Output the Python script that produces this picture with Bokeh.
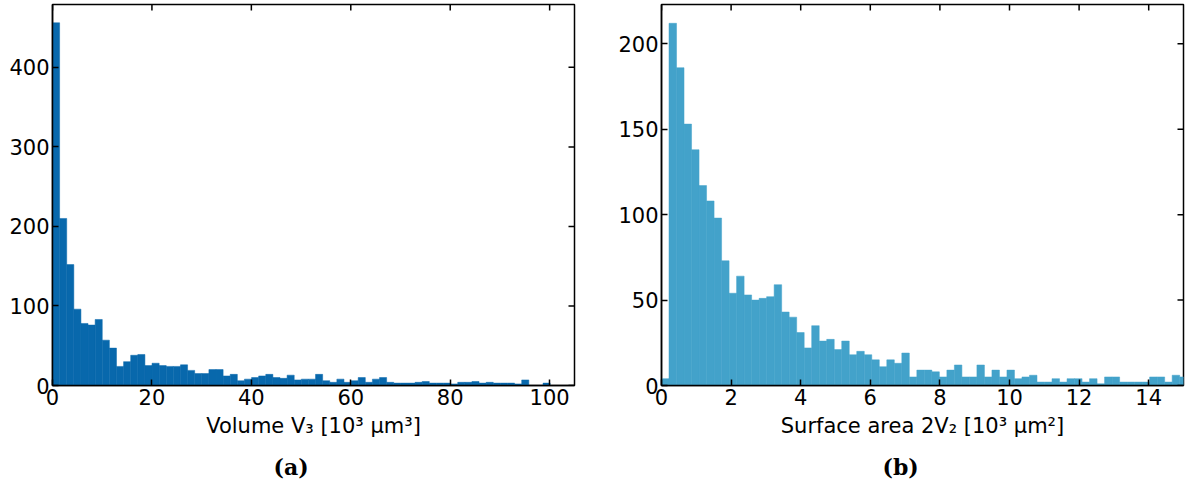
import numpy as np
from bokeh.plotting import figure
from bokeh.layouts import row
from bokeh.models import Range1d, LinearAxis, FixedTicker, Title
from bokeh.embed import file_html
from bokeh.resources import INLINE

# ---- data ----
vol_bin_start = 0.0
vol_bin_width = 1.43
vol_counts = [456, 210, 152, 96, 78, 76, 83, 57, 47, 24,
              30, 38, 39, 25, 28, 25, 24, 24, 26, 19,
              15, 15, 20, 20, 12, 14, 6, 8, 10, 12,
              14, 10, 9, 13, 7, 8, 8, 14, 6, 4,
              8, 4, 6, 10, 4, 8, 10, 4, 3, 3,
              3, 4, 5, 3, 3, 3, 2, 4, 4, 5,
              3, 4, 3, 3, 3, 2, 7, 0, 0, 3]
vol_xticks = [0, 20, 40, 60, 80, 100]
vol_yticks = [0, 100, 200, 300, 400]

area_bin_start = 0.0
area_bin_width = 0.2158
area_counts = [4, 212, 186, 153, 138, 117, 108, 98, 73, 54,
               64, 53, 50, 51, 52, 59, 43, 40, 31, 22,
               35, 26, 27, 21, 26, 18, 20, 18, 15, 11,
               15, 13, 19, 5, 9, 9, 8, 5, 9, 12,
               5, 5, 12, 5, 9, 5, 9, 4, 5, 6,
               2, 2, 4, 2, 4, 4, 2, 4, 1, 5,
               5, 2, 2, 2, 2, 5, 5, 2, 6, 5]
area_xticks = [0, 2, 4, 6, 8, 10, 12, 14]
area_yticks = [0, 50, 100, 150, 200]

FONT = "DejaVu Sans"
TICK_SIZE = "21px"


def make_panel(bin_start, bin_width, counts, xr, yr, xticks, yticks, color,
               xlabel, caption, width, border_left, border_right):
    counts = np.asarray(counts, dtype=float)
    edges = bin_start + bin_width * np.arange(len(counts) + 1)
    p = figure(width=width, height=491, output_backend="svg", toolbar_location=None,
               x_range=Range1d(*xr), y_range=Range1d(*yr),
               min_border_left=border_left, min_border_right=border_right,
               min_border_top=4, min_border_bottom=105,
               x_axis_location=None, y_axis_location=None)
    p.quad(left=edges[:-1], right=edges[1:], top=counts, bottom=0,
           fill_color=color, line_color=color, line_width=0.5)
    p.xgrid.visible = False
    p.ygrid.visible = False
    p.outline_line_color = "black"
    p.outline_line_width = 1.5
    p.background_fill_color = "white"
    p.border_fill_color = "white"

    def style(ax):
        ax.major_tick_in = 6
        ax.major_tick_out = 0
        ax.major_tick_line_width = 1.5
        ax.major_tick_line_color = "black"
        ax.minor_tick_line_color = None
        ax.axis_line_color = "black"
        ax.axis_line_width = 1.5
        ax.major_label_text_font = FONT
        ax.major_label_text_font_size = TICK_SIZE
        ax.major_label_text_color = "black"
        ax.major_label_standoff = 3

    xb = LinearAxis(ticker=FixedTicker(ticks=xticks), axis_label=xlabel,
                    axis_label_text_font=FONT, axis_label_text_font_size="21px",
                    axis_label_text_font_style="normal",
                    axis_label_text_color="black", axis_label_standoff=6)
    style(xb)
    yl = LinearAxis(ticker=FixedTicker(ticks=yticks))
    style(yl)
    p.add_layout(xb, "below")
    p.add_layout(yl, "left")

    # inward ticks on the top and right edges (markers clipped by the frame)
    top_y = [yr[1]] * len(xticks)
    p.scatter(x=xticks, y=top_y, marker="dash", size=12, angle=np.pi / 2,
              line_color="black", line_width=1.5)
    right_x = [xr[1]] * len(yticks)
    p.scatter(x=right_x, y=yticks, marker="dash", size=12,
              line_color="black", line_width=1.5)

    p.add_layout(Title(text=caption, align="left", offset=221,
                       text_font="DejaVu Serif",
                       text_font_style="bold", text_font_size="22px",
                       text_color="black", standoff=23), "below")
    return p


p1 = make_panel(vol_bin_start, vol_bin_width, vol_counts, (0, 105), (0, 479),
                vol_xticks, vol_yticks, "#0868ac",
                "Volume V\u2083 [10\u00b3 \u03bcm\u00b3]", "(a)", 600, 52, 26)
p2 = make_panel(area_bin_start, area_bin_width, area_counts, (0, 15), (0, 223),
                area_xticks, area_yticks, "#43a2ca",
                "Surface area 2V\u2082 [10\u00b3 \u03bcm\u00b2]", "(b)", 589, 61, 6)

layout = row(p1, p2)
open("out.html", "w").write(file_html(layout, INLINE))
